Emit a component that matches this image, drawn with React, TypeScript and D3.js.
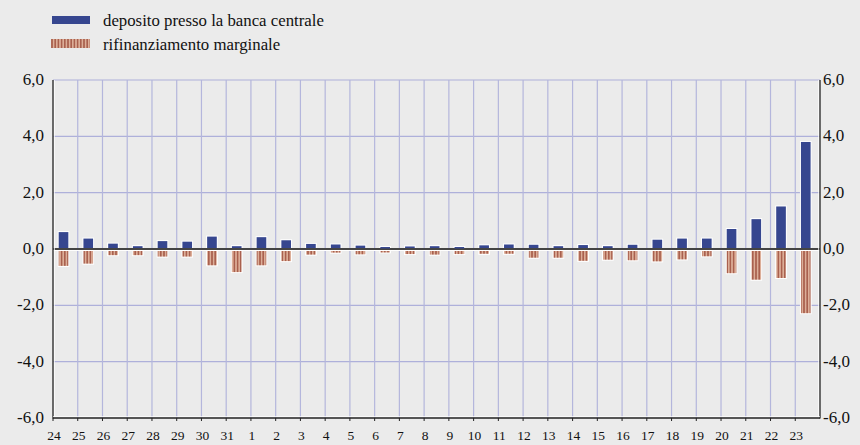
import React from 'react';
import * as d3 from 'd3';

// days: end of one month then start of the next
const days = ['24', '25', '26', '27', '28', '29', '30', '31',
  '1', '2', '3', '4', '5', '6', '7', '8', '9', '10', '11', '12',
  '13', '14', '15', '16', '17', '18', '19', '20', '21', '22', '23'];

const deposito = [0.6, 0.37, 0.19, 0.1, 0.28, 0.26, 0.44, 0.1,
  0.42, 0.31, 0.18, 0.16, 0.12, 0.07, 0.09, 0.1, 0.07, 0.13, 0.16, 0.15,
  0.1, 0.14, 0.1, 0.15, 0.33, 0.37, 0.37, 0.71, 1.06, 1.51, 3.8];

const rifinanziamento = [-0.6, -0.52, -0.22, -0.22, -0.27, -0.27, -0.58, -0.82,
  -0.58, -0.43, -0.2, -0.13, -0.19, -0.12, -0.18, -0.2, -0.18, -0.17, -0.17, -0.31,
  -0.31, -0.42, -0.38, -0.4, -0.44, -0.37, -0.26, -0.86, -1.09, -1.03, -2.28];

const yTicks = [-6, -4, -2, 0, 2, 4, 6];
const legendLabels = ['deposito presso la banca centrale', 'rifinanziamento marginale'];

const W = 860;
const H = 445;
const left = 53;
const right = 820;
const top = 80;
const bottom = 418;
const font = '"Liberation Serif", "Times New Roman", serif';
const blue = '#36468f';

export default function App() {
  const x = d3.scaleBand<string>().domain(days).range([left, right]);
  const y = d3.scaleLinear().domain([-6, 6]).range([bottom, top]);
  const step = x.step();
  const fmt = (v: number) => d3.format('.1f')(v).replace('.', ',').replace('−', '-');
  const barX = (d: string) => x(d)! + step * 0.23;
  const barW = step * 0.39;
  const y0 = y(0);

  return (
    <svg width={W} height={H} style={{ position: 'absolute', left: 0, top: 0, background: '#ebebeb' }}>
      <defs>
        <pattern id="stripes" width="3.2" height="10" patternUnits="userSpaceOnUse">
          <rect width="3.2" height="10" fill="#dcae98" />
          <rect width="1.6" height="10" fill="#a9604e" />
        </pattern>
      </defs>
      <rect width={W} height={H} fill="#ebebeb" />

      {/* legend */}
      <rect x={52} y={16} width={38} height={8} fill={blue} />
      <rect x={51} y={39} width={39} height={9} fill="url(#stripes)" />
      <text x={103} y={25.5} fontFamily={font} fontSize={16.8} fill="#111">{legendLabels[0]}</text>
      <text x={103} y={49.5} fontFamily={font} fontSize={16.8} fill="#111">{legendLabels[1]}</text>

      {/* grid */}
      {yTicks.filter(t => t !== 0 && t !== -6).map(t => (
        <line key={'h' + t} x1={left} x2={right} y1={y(t)} y2={y(t)} stroke="#aeb0da" strokeWidth={1.2} />
      ))}
      {days.slice(1).map(d => (
        <line key={'v' + d} x1={x(d)} x2={x(d)} y1={top} y2={bottom} stroke="#b4b6dc" strokeWidth={1.2} />
      ))}

      {/* zero line */}
      <line x1={left} x2={right} y1={y0 + 1.5} y2={y0 + 1.5} stroke="#fff" strokeWidth={1} />
      <line x1={left} x2={right} y1={y0} y2={y0} stroke="#444" strokeWidth={1.8} />

      {/* bars: white backing, then the fill */}
      {days.map((d, i) => {
        const yt = y(deposito[i]);
        const yb = y(rifinanziamento[i]);
        return (
          <g key={'b' + d}>
            <rect x={barX(d) - 1} y={yt - 1} width={barW + 2} height={y0 - 1 - yt + 1} fill="#fff" />
            <rect x={barX(d)} y={yt} width={barW} height={Math.max(1.5, y0 - 1 - yt)} fill={blue} />
            <rect x={barX(d) - 1} y={y0 + 1.5} width={barW + 2} height={yb - y0 - 0.5} fill="#fff" />
            <rect x={barX(d)} y={y0 + 2} width={barW} height={Math.max(1.5, yb - y0 - 2)} fill="url(#stripes)" />
          </g>
        );
      })}

      {/* axes */}
      <line x1={left + 1.2} x2={left + 1.2} y1={top} y2={bottom} stroke="#fff" strokeWidth={1} />
      <line x1={left} x2={left} y1={top} y2={bottom + 0.5} stroke="#222" strokeWidth={1.3} />
      <line x1={right - 1.2} x2={right - 1.2} y1={top} y2={bottom} stroke="#fff" strokeWidth={1} />
      <line x1={right} x2={right} y1={top} y2={bottom + 0.5} stroke="#222" strokeWidth={1.3} />
      <line x1={left} x2={right} y1={bottom - 1.2} y2={bottom - 1.2} stroke="#fff" strokeWidth={1} />
      <line x1={left} x2={right} y1={bottom} y2={bottom} stroke="#222" strokeWidth={1.3} />
      {days.map(d => (
        <line key={'t' + d} x1={x(d)} x2={x(d)} y1={bottom} y2={bottom + 3} stroke="#222" strokeWidth={1} />
      ))}

      {/* labels */}
      {yTicks.map(t => (
        <g key={'yl' + t}>
          <text x={44} y={y(t) + 5} textAnchor="end" fontFamily={font} fontSize={17} fill="#111">{fmt(t)}</text>
          <text x={823} y={y(t) + 5} textAnchor="start" fontFamily={font} fontSize={17} fill="#111">{fmt(t)}</text>
        </g>
      ))}
      {days.map(d => (
        <text key={'xl' + d} x={x(d)! + 1} y={440} textAnchor="middle" fontFamily={font} fontSize={13.5} fill="#111">{d}</text>
      ))}
    </svg>
  );
}
